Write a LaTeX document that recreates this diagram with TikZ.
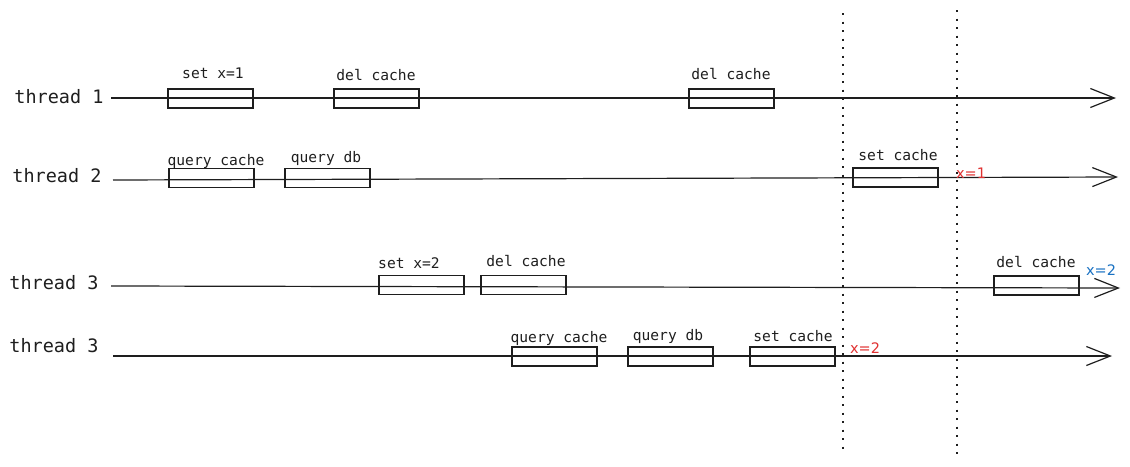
\documentclass[tikz,border=0pt]{standalone}
\usepackage{fontspec}
\setmonofont{DejaVu Sans Mono}
\setsansfont{DejaVu Sans}
\usetikzlibrary{arrows.meta}
\definecolor{inkgray}{HTML}{1E1E1E}
\definecolor{markred}{HTML}{E03131}
\definecolor{markblue}{HTML}{1971C2}
\tikzset{
  threadlbl/.style={anchor=base, font=\ttfamily\fontsize{18.5}{18}\selectfont, text=inkgray, inner sep=0pt},
  steplbl/.style={anchor=base, font=\ttfamily\fontsize{14.6}{14}\selectfont, text=inkgray, inner sep=0pt},
  stepbox/.style={draw=inkgray, line width=1.2pt, minimum width=85pt, minimum height=19pt, inner sep=0pt},
  timeline/.style={draw=inkgray, line width=1.2pt, -{Straight Barb[length=24pt,width=19pt,line width=1.2pt]}},
  marker/.style={anchor=base, font=\sffamily\fontsize{14.5}{14}\selectfont, inner sep=0pt},
  cutline/.style={draw=inkgray, line width=2.2pt, dash pattern=on 2.2pt off 6.3pt}
}
\begin{document}
\begin{tikzpicture}[x=1pt,y=-1pt]
  \useasboundingbox (0,0) rectangle (1130,466);
  % thread names
  \node[threadlbl] (th1) at (59,103) {thread 1};
  \node[threadlbl] (th2) at (57,182) {thread 2};
  \node[threadlbl] (th3) at (54,289) {thread 3};
  \node[threadlbl] (th4) at (54,352) {thread 3};
  % time axes
  \coordinate (a1) at (111,98);   \coordinate (b1) at (1116,98);
  \coordinate (a2) at (113,180);  \coordinate (b2) at (1118,177);
  \coordinate (a3) at (111,286);  \coordinate (b3) at (1120,288);
  \coordinate (a4) at (113,356);  \coordinate (b4) at (1112,356);
  \begin{scope}[timeline]
    \draw (a1) -- (b1);
    \draw (a2) -- (b2);
    \draw (a3) -- (b3);
    \draw (a4) -- (b4);
  \end{scope}
  % thread 1
  \node[stepbox] (s11) at (210.5,98.5) {};
  \node[stepbox] (s12) at (376.5,98.5) {};
  \node[stepbox] (s13) at (731.5,98.5) {};
  \node[steplbl] (l11) at (213,78) {set x=1};
  \node[steplbl] (l12) at (376,80) {del cache};
  \node[steplbl] (l13) at (731,79) {del cache};
  % thread 2
  \node[stepbox] (s21) at (211.5,178) {};
  \node[stepbox] (s22) at (327.5,178) {};
  \node[stepbox] (s23) at (895.5,177.5) {};
  \node[steplbl] (l21) at (216,165) {query cache};
  \node[steplbl] (l22) at (326,162) {query db};
  \node[steplbl] (l23) at (898,160) {set cache};
  \node[marker, text=markred] (m2) at (971,178) {x=1};
  % thread 3
  \node[stepbox] (s31) at (421.5,285) {};
  \node[stepbox] (s32) at (523.5,285) {};
  \node[stepbox] (s33) at (1036.5,285.5) {};
  \node[steplbl] (l31) at (409,268) {set x=2};
  \node[steplbl] (l32) at (526,266) {del cache};
  \node[steplbl] (l33) at (1036,267) {del cache};
  \node[marker, text=markblue] (m3) at (1101,275) {x=2};
  % thread 3 (again)
  \node[stepbox] (s41) at (554.5,356.5) {};
  \node[stepbox] (s42) at (670.5,356.5) {};
  \node[stepbox] (s43) at (792.5,356.5) {};
  \node[steplbl] (l41) at (559,342) {query cache};
  \node[steplbl] (l42) at (668,340) {query db};
  \node[steplbl] (l43) at (793,341) {set cache};
  \node[marker, text=markred] (m4) at (865,353) {x=2};
  % time cuts
  \coordinate (c1t) at (843,13);  \coordinate (c1b) at (843,454);
  \coordinate (c2t) at (957,10);  \coordinate (c2b) at (957,454);
  \draw[cutline] (c1t) -- (c1b);
  \draw[cutline] (c2t) -- (c2b);
\end{tikzpicture}
\end{document}
